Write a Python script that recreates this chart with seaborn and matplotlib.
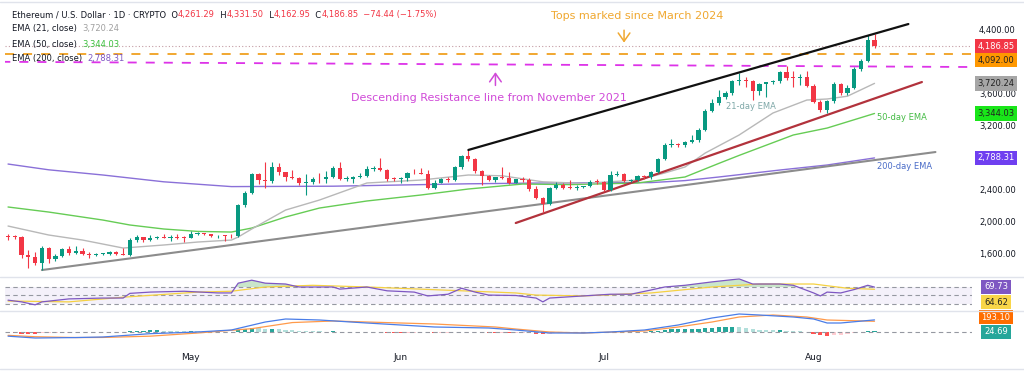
import numpy as np
import pandas as pd
import matplotlib
matplotlib.use("Agg")
import matplotlib.pyplot as plt
from matplotlib.lines import Line2D
import seaborn as sns

# --- data (ETH/USD daily) ---
start = pd.Timestamp("2025-04-04")
dates = pd.date_range(start, "2025-08-10", freq="D")

opens = [1816, 1806, 1797, 1578, 1553, 1472, 1668, 1522, 1566, 1645, 1596, 1622, 1588, 1578, 1584, 1588, 1613, 1588, 1578, 1757, 1795, 1768, 1786, 1806, 1793, 1799, 1793,
         1791, 1838, 1842, 1834, 1808, 1817, 1814, 1808, 2205, 2345, 2585, 2512, 2495, 2680, 2608, 2545, 2538, 2470, 2485, 2525, 2520, 2555, 2665, 2522, 2530, 2548, 2565, 2655, 2665, 2632, 2530,
         2527, 2538, 2605, 2595, 2592, 2415, 2480, 2525, 2508, 2675, 2815, 2770, 2620, 2565, 2512, 2545, 2540, 2480, 2522, 2512, 2395, 2285, 2215, 2408, 2450, 2415, 2412, 2425, 2435, 2490,
         2485, 2390, 2575, 2585, 2500, 2515, 2560, 2545, 2610, 2770, 2955, 2962, 2945, 2985, 3015, 3135, 3380, 3478, 3550, 3595, 3755, 3765, 3745, 3620, 3708, 3732, 3745, 3867, 3792, 3785, 3802,
         3690, 3483, 3390, 3495, 3710, 3600, 3668, 3905, 3995, 4261.29]
highs = [1832, 1822, 1812, 1640, 1617, 1688, 1680, 1590, 1660, 1690, 1690, 1660, 1615, 1605, 1600, 1620, 1622, 1660, 1783, 1830, 1800, 1830, 1812, 1835, 1820, 1840, 1810,
         1870, 1860, 1845, 1840, 1830, 1822, 1840, 2210, 2380, 2600, 2595, 2740, 2735, 2720, 2615, 2640, 2550, 2590, 2550, 2600, 2620, 2690, 2735, 2560, 2560, 2600, 2690, 2690, 2785, 2650, 2545,
         2545, 2610, 2655, 2660, 2640, 2510, 2535, 2545, 2690, 2830, 2888, 2790, 2640, 2575, 2555, 2680, 2610, 2530, 2545, 2540, 2440, 2300, 2420, 2490, 2470, 2510, 2450, 2440, 2510, 2525,
         2495, 2620, 2630, 2600, 2530, 2580, 2580, 2630, 2790, 2980, 3030, 2980, 3000, 3080, 3160, 3400, 3520, 3640, 3620, 3765, 3850, 3800, 3760, 3730, 3740, 3760, 3880, 3940, 3880, 3840, 3880,
         3710, 3510, 3510, 3740, 3720, 3700, 3920, 4020, 4325, 4331.50]
lows = [1762, 1770, 1540, 1411, 1450, 1385, 1470, 1505, 1545, 1570, 1590, 1580, 1540, 1565, 1575, 1580, 1575, 1570, 1565, 1740, 1740, 1750, 1775, 1790, 1745, 1780, 1735,
        1788, 1820, 1825, 1800, 1785, 1755, 1785, 1800, 2170, 2340, 2460, 2410, 2480, 2570, 2500, 2520, 2450, 2330, 2460, 2470, 2480, 2540, 2510, 2500, 2470, 2540, 2550, 2620, 2620, 2500, 2500,
        2480, 2500, 2590, 2590, 2400, 2400, 2470, 2490, 2500, 2650, 2750, 2600, 2450, 2495, 2490, 2520, 2460, 2470, 2490, 2380, 2270, 2117, 2205, 2400, 2400, 2400, 2390, 2410, 2420, 2460,
        2370, 2380, 2560, 2490, 2490, 2500, 2520, 2530, 2600, 2760, 2920, 2920, 2930, 2970, 2990, 3120, 3360, 3450, 3530, 3580, 3700, 3680, 3510, 3580, 3550, 3710, 3730, 3760, 3680, 3700, 3680,
        3470, 3360, 3350, 3480, 3570, 3580, 3650, 3880, 3990, 4162.95]
closes = [1806, 1797, 1578, 1553, 1472, 1668, 1522, 1566, 1645, 1596, 1622, 1588, 1578, 1584, 1588, 1613, 1588, 1578, 1757, 1795, 1768, 1786, 1806, 1793, 1799, 1793, 1791,
          1838, 1842, 1834, 1808, 1817, 1814, 1808, 2205, 2345, 2585, 2512, 2495, 2680, 2608, 2545, 2538, 2470, 2485, 2525, 2520, 2555, 2665, 2522, 2530, 2548, 2565, 2655, 2665, 2632, 2530, 2527,
          2538, 2605, 2595, 2592, 2415, 2480, 2525, 2508, 2675, 2815, 2770, 2620, 2565, 2512, 2545, 2540, 2480, 2522, 2512, 2395, 2285, 2215, 2408, 2450, 2415, 2412, 2425, 2435, 2490, 2485,
          2390, 2575, 2585, 2500, 2515, 2560, 2545, 2610, 2770, 2955, 2962, 2945, 2985, 3015, 3135, 3380, 3478, 3550, 3595, 3755, 3765, 3745, 3620, 3708, 3732, 3745, 3867, 3792, 3785, 3802, 3690,
          3483, 3390, 3495, 3710, 3600, 3668, 3905, 3995, 4261.29, 4186.85]

# EMAs
ema21_dates = ["2025-04-04", "2025-04-10", "2025-04-15", "2025-04-21", "2025-04-27", "2025-05-02", "2025-05-07", "2025-05-08",
               "2025-05-10", "2025-05-15", "2025-05-20", "2025-05-27", "2025-06-04", "2025-06-11", "2025-06-16", "2025-06-22",
               "2025-06-28", "2025-07-06", "2025-07-10", "2025-07-13", "2025-07-16", "2025-07-21", "2025-07-26", "2025-07-31",
               "2025-08-03", "2025-08-06", "2025-08-10"]
ema21_vals = [1937, 1825, 1762, 1662, 1700, 1737, 1762, 1800, 1900, 2137, 2262, 2475, 2512, 2575, 2565, 2490,
              2470, 2512, 2600, 2675, 2850, 3075, 3350, 3512, 3525, 3560, 3720.24]
ema50_dates = ["2025-04-04", "2025-04-10", "2025-04-18", "2025-04-22", "2025-04-27", "2025-05-02", "2025-05-07", "2025-05-10",
               "2025-05-15", "2025-05-20", "2025-05-27", "2025-06-04", "2025-06-11", "2025-06-19", "2025-06-26", "2025-07-06",
               "2025-07-13", "2025-07-18", "2025-07-21", "2025-07-29", "2025-08-03", "2025-08-10"]
ema50_vals = [2175, 2112, 2012, 1950, 1900, 1870, 1862, 1912, 2050, 2162, 2250, 2325, 2400, 2462, 2455, 2475,
              2550, 2720, 2820, 3075, 3162, 3344.03]
ema200_dates = ["2025-04-04", "2025-04-10", "2025-04-18", "2025-04-27", "2025-05-07", "2025-05-22", "2025-06-11", "2025-06-22",
                "2025-07-08", "2025-07-13", "2025-07-18", "2025-07-27", "2025-08-03", "2025-08-10"]
ema200_vals = [2712, 2640, 2575, 2490, 2430, 2435, 2465, 2475, 2480, 2505, 2550, 2637, 2700, 2788.31]

# RSI (14) and its MA
rsi_dates = ["2025-04-04", "2025-04-06", "2025-04-08", "2025-04-09", "2025-04-13", "2025-04-18", "2025-04-21", "2025-04-22",
             "2025-04-25", "2025-04-30", "2025-05-05", "2025-05-07", "2025-05-08", "2025-05-10", "2025-05-12", "2025-05-15",
             "2025-05-17", "2025-05-22", "2025-05-23", "2025-05-27", "2025-05-30", "2025-06-03", "2025-06-05", "2025-06-08",
             "2025-06-10", "2025-06-12", "2025-06-14", "2025-06-18", "2025-06-21", "2025-06-22", "2025-06-23", "2025-06-28",
             "2025-07-02", "2025-07-05", "2025-07-08", "2025-07-10", "2025-07-13", "2025-07-17", "2025-07-21", "2025-07-23",
             "2025-07-27", "2025-07-29", "2025-08-01", "2025-08-02", "2025-08-03", "2025-08-05", "2025-08-07", "2025-08-09",
             "2025-08-10"]
rsi_vals = [39, 35, 28, 35, 42, 44, 44, 55, 58, 60, 56, 56, 79, 86, 79, 77, 70, 70, 65, 70, 61, 58, 49, 53,
            67, 58, 51, 50, 44, 35, 44, 49, 53, 53, 63, 70, 74, 82, 89, 77, 77, 74, 56, 49, 58, 56, 64, 74, 69.73]
rsi_ma_dates = ["2025-04-04", "2025-04-13", "2025-04-21", "2025-05-02", "2025-05-07", "2025-05-12", "2025-05-19", "2025-05-27",
                "2025-06-07", "2025-06-18", "2025-06-21", "2025-06-28", "2025-07-08", "2025-07-17", "2025-07-24", "2025-08-01",
                "2025-08-06", "2025-08-10"]
rsi_ma_vals = [37, 35, 46, 58, 60, 70, 74, 70, 63, 56, 51, 49, 56, 70, 77, 77, 67, 64.62]

# MACD (12, 26)
macd_dates = ["2025-04-04", "2025-04-08", "2025-04-14", "2025-04-18", "2025-04-25", "2025-05-02", "2025-05-07", "2025-05-12",
              "2025-05-15", "2025-05-20", "2025-05-27", "2025-06-06", "2025-06-14", "2025-06-18", "2025-06-23", "2025-06-28",
              "2025-07-02", "2025-07-07", "2025-07-12", "2025-07-17", "2025-07-21", "2025-07-24", "2025-07-29", "2025-08-01",
              "2025-08-03", "2025-08-05", "2025-08-10"]
macd_vals = [-75, -108, -100, -90, -30, 0, 36, 180, 234, 216, 162, 90, 72, 36, -18, -18,
             0, 36, 126, 252, 324, 306, 270, 234, 162, 162, 217.79]
signal_dates = ["2025-04-04", "2025-04-08", "2025-04-14", "2025-04-18", "2025-04-25", "2025-05-02", "2025-05-10", "2025-05-16",
                "2025-05-22", "2025-05-27", "2025-06-06", "2025-06-15", "2025-06-18", "2025-06-23", "2025-06-28", "2025-07-07",
                "2025-07-12", "2025-07-17", "2025-07-21", "2025-07-26", "2025-07-31", "2025-08-03", "2025-08-10"]
signal_vals = [-60, -85, -100, -98, -75, -18, 60, 170, 198, 180, 144, 90, 54, 0, -18, 18,
               90, 180, 270, 306, 270, 216, 193.10]
hist_vals = [-15, -18, -28, -32, -34, -25, -22, -18, -12, -10, -6, -4, -2, 2, 4, 6, 7, 8, 18, 25, 27, 28, 28, 26, 24, 21, 18,
             18, 16, 14, 10, 8, 5, 3, 28, 50, 72, 68, 60, 62, 52, 40, 32, 22, 18, 14, 10, 8, 10, 2, -2, -4, -5, -2, -1, -3, -10, -14,
             -16, -12, -10, -8, -20, -22, -18, -16, -6, 6, 8, 2, -6, -12, -16, -16, -20, -20, -20, -26, -34, -40, -32, -22, -18, -14, -10, -6, -2, 0,
             -4, 4, 8, 6, 6, 8, 8, 12, 24, 42, 50, 52, 54, 56, 60, 72, 80, 84, 84, 88, 84, 72, 52, 44, 36, 30, 32, 24, 16, 12, 0,
             -30, -60, -70, -50, -45, -35, -14, -4, 14, 24.69]

# drawn levels / trend lines (date, price)
tops_level = 4092.00
desc_res = [("2025-04-03", 3990), ("2025-08-24", 3925)]
black_line = [("2025-06-11", 2888), ("2025-08-15", 4462)]
red_line = [("2025-06-18", 1975), ("2025-08-17", 3737)]
gray_line = [("2025-04-09", 1387), ("2025-08-19", 2862)]


def dx(d):
    return (pd.Timestamp(d) - start).days


def seg(pts):
    return [dx(d) for d, _ in pts], [p for _, p in pts]


W, H = 1024, 371
sns.set_theme(style="white")
plt.rcParams['font.family'] = ['DejaVu Sans']
fig = plt.figure(figsize=(W / 100, H / 100), dpi=100)


def box(x0, y0, x1, y1):
    return [x0 / W, 1 - y1 / H, (x1 - x0) / W, (y1 - y0) / H]


ax = fig.add_axes(box(5, 4, 972, 276))
ax_rsi = fig.add_axes(box(5, 277, 972, 310), sharex=ax)
ax_macd = fig.add_axes(box(5, 311, 972, 346), sharex=ax)

UP, DOWN = "#089981", "#f23645"
x = np.arange(len(dates))
o, h, l, c = map(np.array, (opens, highs, lows, closes))
col = np.where(c >= o, UP, DOWN)

# candles
ax.vlines(x, l, h, colors=col, lw=0.8, zorder=4)
ax.bar(x, np.maximum(np.abs(c - o), 10), bottom=np.minimum(o, c), width=0.62, color=col,
       edgecolor="none", linewidth=0, zorder=5)

# EMAs
for ds, vs, cl in [(ema200_dates, ema200_vals, "#8a70d8"), (ema50_dates, ema50_vals, "#66cc55"),
                   (ema21_dates, ema21_vals, "#b8b8b8")]:
    sns.lineplot(x=[dx(d) for d in ds], y=vs, ax=ax, color=cl, lw=1.0, zorder=3)

# trend lines and levels
xs, ys = seg(gray_line)
ax.plot(xs, ys, color="#8c8c8c", lw=1.5, zorder=3)
xs, ys = seg(red_line)
ax.plot(xs, ys, color="#b2323c", lw=1.6, zorder=3)
xs, ys = seg(black_line)
ax.plot(xs, ys, color="#111111", lw=1.6, zorder=6)
xs, ys = seg(desc_res)
ax.plot(xs, ys, color="#dd33e8", lw=1.3, ls=(0, (5, 5)), zorder=2)
ax.axhline(tops_level, color="#f0a020", lw=1.3, ls=(0, (5, 5)), zorder=2)
ax.axhline(closes[-1], color="#c49ca4", lw=0.8, ls=(0, (1, 2)), zorder=2)

# annotations
ax.text(dx("2025-07-06"), 4562, "Tops marked since March 2024", color="#f0a830", fontsize=8,
        ha="center", va="center")
ax.annotate("", xy=(dx("2025-07-04"), 4195), xytext=(dx("2025-07-04"), 4420),
            arrowprops=dict(arrowstyle="->,head_length=0.5,head_width=0.35", color="#f0a830", lw=1.1))
ax.text(dx("2025-06-14"), 3537, "Descending Resistance line from November 2021", color="#d04ad8",
        fontsize=8, ha="center", va="center")
ax.annotate("", xy=(dx("2025-06-15"), 3895), xytext=(dx("2025-06-15"), 3660),
            arrowprops=dict(arrowstyle="->,head_length=0.5,head_width=0.35", color="#d04ad8", lw=1.1))
ax.text(dx("2025-07-19"), 3437, "21-day EMA", color="#7fa8a8", fontsize=6, va="center")
ax.text(dx("2025-08-10") + 0.3, 3300, "50-day EMA", color="#44bb44", fontsize=6, va="center")
ax.text(dx("2025-08-10") + 0.3, 2687, "200-day EMA", color="#4a6cc8", fontsize=6, va="center")

xmin, xmax = -0.45, 142.4
ax.set_xlim(xmin, xmax)
ax.set_ylim(1312.5, 4712.5)
ax.yaxis.tick_right()
ax.set_yticks(np.arange(1600, 4401, 400))
ax.set_yticklabels([f"{v:,.2f}" for v in np.arange(1600, 4401, 400)])
ax.tick_params(axis="y", length=0, pad=5, labelsize=6, labelcolor="#131722")
ax.tick_params(axis="x", length=0, labelbottom=False)

# RSI panel
rx = [dx(d) for d in rsi_dates]
ax_rsi.axhspan(30, 70, color="#7e57c2", alpha=0.08, lw=0)
for lvl in (70, 50, 30):
    ax_rsi.axhline(lvl, color="#9598a1", lw=0.8, ls=(0, (4, 3)))
sns.lineplot(x=[dx(d) for d in rsi_ma_dates], y=rsi_ma_vals, ax=ax_rsi, color="#f5d142", lw=0.9)
sns.lineplot(x=rx, y=rsi_vals, ax=ax_rsi, color="#7e57c2", lw=0.9)
rv = np.array(rsi_vals, dtype=float)
ax_rsi.fill_between(rx, rv, 70, where=rv > 70, interpolate=True, color="#4caf50", alpha=0.3, lw=0)
ax_rsi.set_ylim(15.9, 93.5)
ax_rsi.set_yticks([])
ax_rsi.tick_params(axis="x", length=0, labelbottom=False)

# MACD panel
hv = np.array(hist_vals, dtype=float)
prev = np.concatenate([[hv[0]], hv[:-1]])
hcol = np.where(hv >= 0, np.where(hv >= prev, "#26a69a", "#b2dfdb"),
                np.where(hv < prev, "#ff5252", "#ffcdd2"))
ax_macd.axhline(0, color="#9598a1", lw=0.8, ls=(0, (4, 3)))
ax_macd.bar(x, hv, width=0.62, color=hcol, edgecolor="none", linewidth=0)
sns.lineplot(x=[dx(d) for d in signal_dates], y=signal_vals, ax=ax_macd, color="#ff9a4a", lw=0.9)
sns.lineplot(x=[dx(d) for d in macd_dates], y=macd_vals, ax=ax_macd, color="#4a7de8", lw=0.9)
ax_macd.set_ylim(-252, 378)
ax_macd.set_yticks([])
month_ticks = ["2025-05-01", "2025-06-01", "2025-07-01", "2025-08-01"]
ax_macd.set_xticks([dx(d) for d in month_ticks])
ax_macd.set_xticklabels(["May", "Jun", "Jul", "Aug"])
ax_macd.tick_params(axis="x", length=0, pad=5, labelsize=6.5, labelcolor="#131722")

for a in (ax, ax_rsi, ax_macd):
    for s in a.spines.values():
        s.set_visible(False)
    a.set_xlabel("")
    a.set_ylabel("")
    a.grid(False)

# panel separators
for yy in (2, 276.5, 310.5, 369):
    fig.add_artist(Line2D([0, 1], [1 - yy / H] * 2, color="#e0e3eb", lw=1.0))


# right-hand value tags
def tag(a, y, text, bg, fg="white"):
    a.text(1.0248, y, text, transform=a.get_yaxis_transform(), ha="center", va="center", fontsize=6,
           color=fg, clip_on=False, zorder=10,
           bbox=dict(boxstyle="square,pad=0.32", fc=bg, ec="none"))


tag(ax, 4186.85, "4,186.85", "#f23645")
tag(ax, 4012, "4,092.00", "#ff9800", "#222222")
tag(ax, 3720, "3,720.24", "#a6a6a6", "#222222")
tag(ax, 3345, "3,344.03", "#19e619", "#222222")
tag(ax, 2790, "2,788.31", "#6f3ff0")
tag(ax_rsi, 70, "69.73", "#7e57c2")
tag(ax_rsi, 34.5, "64.62", "#f9d649", "#222222")
tag(ax_macd, 270, "193.10", "#ff6d00")
tag(ax_macd, 0, "24.69", "#26a69a")


# legend rows (multi-coloured text)
def chain(a, xp, yp, parts, size=6):
    t = a.text(xp / W, 1 - yp / H, parts[0][0], color=parts[0][1], fontsize=size, va="center",
               transform=fig.transFigure, zorder=12)
    for s, cl in parts[1:]:
        t = a.annotate(s, xycoords=t, xy=(1, 0), va="bottom", color=cl, fontsize=size,
                       annotation_clip=False, zorder=12)


DK, RD = "#131722", "#f23645"
chain(ax, 12, 15, [("Ethereum / U.S. Dollar · 1D · CRYPTO  O", DK), ("4,261.29", RD), ("  H", DK),
                   ("4,331.50", RD), ("  L", DK), ("4,162.95", RD), ("  C", DK), ("4,186.85", RD),
                   ("  −74.44 (−1.75%)", RD)])
chain(ax, 12, 29, [("EMA (21, close)  ", DK), ("3,720.24", "#a0a0a0")])
chain(ax, 12, 44, [("EMA (50, close)  ", DK), ("3,344.03", "#3cbf3c")])
chain(ax, 12, 58, [("EMA (200, close)  ", DK), ("2,788.31", "#7e57c2")])
chain(ax, 12, 287, [("RSI (14, close)  ", DK), ("69.73", "#7e57c2"), ("  64.62", "#f5c842")])
chain(ax, 12, 323, [("MACD (12, 26, close)  ", DK), ("24.69", "#26a69a"), ("  217.79", "#2962ff"),
                    ("  193.10", "#ff6d00")])

fig.savefig("out.png", dpi=100)
